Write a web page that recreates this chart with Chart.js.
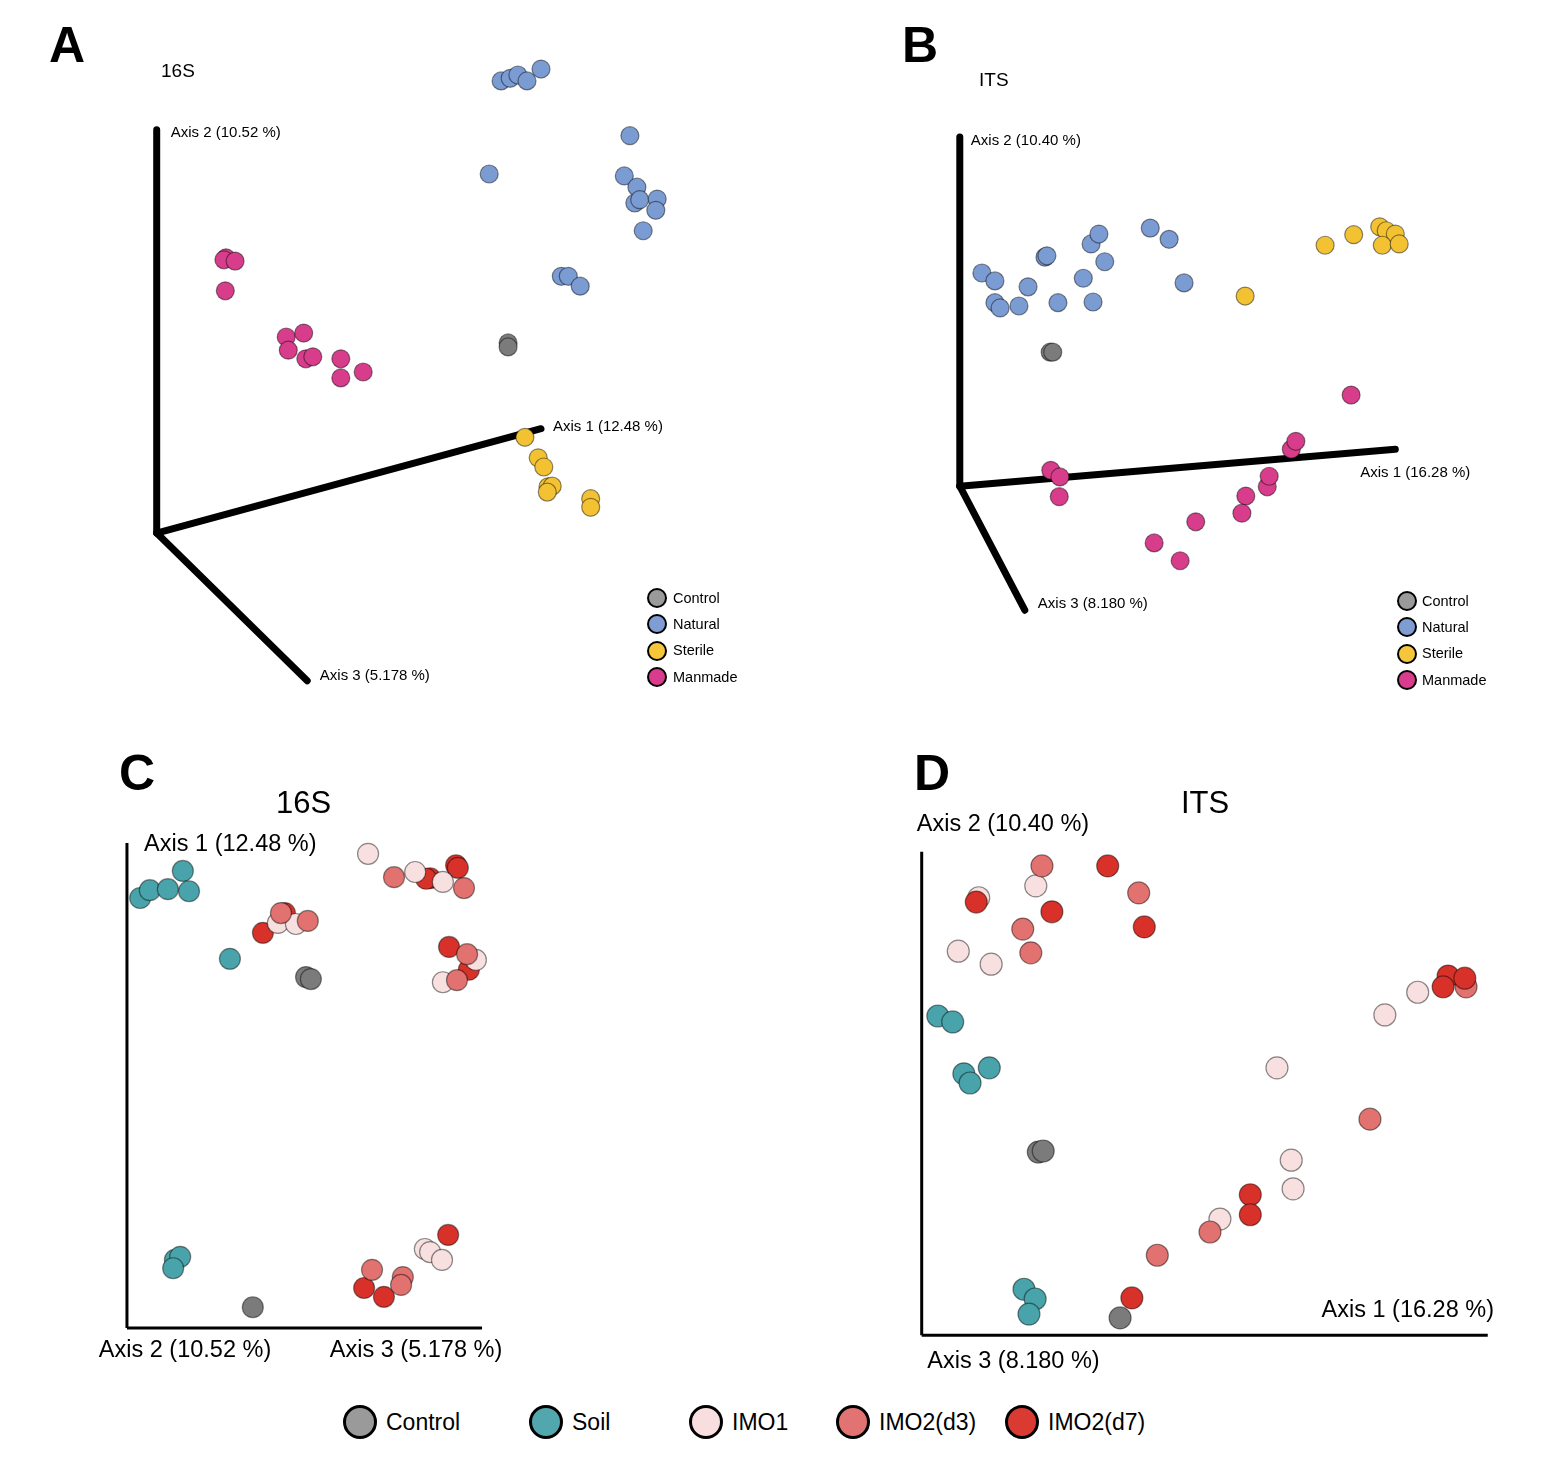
<!DOCTYPE html>
<html>
<head>
<meta charset="utf-8">
<script src="https://cdn.jsdelivr.net/npm/chart.js@4.4.1/dist/chart.umd.min.js"></script>
<style>
  body { margin: 0; background: #fff; overflow: hidden; }
  #page { position: relative; width: 1556px; height: 1476px; font-family: "Liberation Sans", Arial, sans-serif; color: #000; }
  canvas { position: absolute; }
  .txt { position: absolute; line-height: 1; white-space: nowrap; }
  .dot { position: absolute; box-sizing: border-box; border-radius: 50%; border: 2.5px solid #000; }
</style>
</head>
<body>
<div id="page">
  <canvas id="panelA" width="780" height="740" style="left:60px;top:0px"></canvas>
  <canvas id="panelB" width="730" height="740" style="left:860px;top:0px"></canvas>
  <canvas id="panelC" width="520" height="600" style="left:50px;top:780px"></canvas>
  <canvas id="panelD" width="700" height="620" style="left:860px;top:780px"></canvas>

  <div class="txt" style="left:49px;top:20px;font-size:50px;font-weight:bold">A</div>
  <div class="txt" style="left:902px;top:20px;font-size:50px;font-weight:bold">B</div>
  <div class="txt" style="left:119px;top:748px;font-size:50px;font-weight:bold">C</div>
  <div class="txt" style="left:914px;top:748px;font-size:50px;font-weight:bold">D</div>
  <div class="txt" style="left:161px;top:61px;font-size:19px">16S</div>
  <div class="txt" style="left:979px;top:70px;font-size:19px">ITS</div>
  <div class="txt" style="left:276px;top:787px;font-size:31px">16S</div>
  <div class="txt" style="left:1181px;top:787px;font-size:31px">ITS</div>
  <div id="legends"></div>
</div>

<script>
// group names
const groupsAB = ['Control', 'Natural', 'Sterile', 'Manmade'];
const groupsCD = ['Control', 'Soil', 'IMO1', 'IMO2(d3)', 'IMO2(d7)'];

// Panel A - 16S PCoA (projected, scaled 0-100)
const a16sControl = [[58.3, 54.1], [58.3, 53.5]];
const a16sNatural = [[57.3, 93.8], [58.6, 94.2], [59.7, 94.7], [61.0, 93.8], [63.0, 95.6], [75.7, 85.5],
  [55.6, 79.7], [74.9, 79.4], [76.7, 77.7], [76.4, 75.3], [77.1, 75.8], [79.6, 75.9], [79.4, 74.2],
  [77.6, 71.1], [65.9, 64.2], [66.9, 64.2], [68.6, 62.7]];
const a16sSterile = [[60.7, 39.8], [62.6, 36.7], [63.4, 35.3], [64.0, 32.3], [64.6, 32.4], [63.9, 31.5],
  [70.1, 30.5], [70.1, 29.2]];
const a16sManmade = [[18.0, 67.0], [17.7, 66.7], [19.3, 66.5], [17.9, 62.0], [26.6, 55.0], [29.1, 55.6],
  [26.9, 53.0], [29.4, 51.7], [30.4, 52.0], [34.4, 51.7], [34.4, 48.8], [37.6, 49.7]];

// Panel B - ITS PCoA
const bItsControl = [[23.1, 52.7], [23.5, 52.7]];
const bItsNatural = [[12.6, 64.7], [14.6, 63.5], [14.6, 60.2], [15.4, 59.4], [18.3, 59.7], [19.7, 62.6],
  [22.3, 67.1], [22.6, 67.3], [24.3, 60.2], [28.2, 63.9], [29.4, 69.1], [30.6, 70.6], [31.5, 66.4],
  [29.7, 60.3], [38.5, 71.5], [41.4, 69.8], [43.7, 63.2]];
const bItsSterile = [[53.1, 61.2], [65.4, 68.9], [69.8, 70.5], [73.8, 71.7], [74.8, 71.1], [76.2, 70.6],
  [74.2, 68.9], [76.8, 69.1]];
const bItsManmade = [[69.4, 46.2], [60.2, 38.0], [60.9, 39.2], [56.5, 32.3], [56.8, 33.9], [53.2, 30.9],
  [52.6, 28.3], [45.5, 27.0], [39.1, 23.8], [43.1, 21.1], [23.2, 34.8], [24.6, 33.8], [24.5, 30.8]];

// Panel C - 16S, axis 2 / axis 3 vs axis 1
const c16sControl = [[49.1, 69.8], [50.2, 69.4], [37.0, 6.3]];
const c16sSoil = [[11.4, 85.0], [13.6, 86.5], [17.7, 86.7], [21.1, 90.2], [22.5, 86.3], [31.8, 73.3],
  [19.3, 15.4], [20.5, 16.0], [18.9, 13.8]];
const c16sImo1 = [[42.7, 80.2], [46.8, 80.0], [63.2, 93.5], [73.9, 90.0], [80.2, 88.1], [87.7, 73.1],
  [80.2, 68.8], [76.1, 17.5], [77.3, 16.9], [80.0, 15.4]];
const c16sImo2d3 = [[43.4, 82.1], [49.5, 80.6], [69.1, 89.0], [85.0, 86.9], [85.7, 74.2], [83.4, 69.2],
  [64.1, 13.5], [71.1, 12.1], [70.7, 10.6]];
const c16sImo2d7 = [[44.3, 82.1], [39.3, 78.3], [77.3, 88.8], [76.4, 88.7], [83.2, 91.3], [83.6, 90.8],
  [81.6, 75.6], [86.1, 71.2], [62.3, 10.0], [66.8, 8.3], [81.4, 20.2]];

// Panel D - ITS, axis 1 / axis 3 vs axis 2
const dItsControl = [[22.3, 38.5], [23.1, 38.7], [35.5, 7.8]];
const dItsSoil = [[6.1, 63.7], [8.5, 62.6], [14.4, 54.1], [10.3, 53.0], [11.3, 51.3], [20.0, 13.1],
  [21.8, 11.3], [20.8, 8.5]];
const dItsImo2d7 = [[33.5, 91.5], [24.5, 83.0], [39.4, 80.2], [12.3, 84.8], [88.4, 71.1], [91.1, 70.7],
  [87.6, 69.1], [56.5, 30.6], [56.5, 26.9], [37.4, 11.5]];
const dItsImo2d3 = [[22.9, 91.5], [38.5, 86.5], [19.8, 79.8], [21.1, 75.4], [91.3, 69.1], [75.8, 44.6],
  [50.0, 23.7], [41.5, 19.4]];
const dItsImo1 = [[21.9, 87.8], [12.7, 85.6], [9.4, 75.7], [14.7, 73.3], [60.8, 54.1], [78.2, 63.9],
  [83.5, 68.1], [63.1, 37.0], [63.4, 31.7], [51.6, 26.1]];

const colors = {
  'Control': ['#7b7b7b', '#9a9a9a'],
  'Natural': ['#7b9bd3', '#7f9dd2'],
  'Sterile': ['#f3c233', '#f5c63a'],
  'Manmade': ['#d73d8b', '#d93c8c'],
  'Soil': ['#48a3aa', '#52a6ad'],
  'IMO1': ['#f8e0e0', '#f8dedf'],
  'IMO2(d3)': ['#e27270', '#e17472'],
  'IMO2(d7)': ['#d83129', '#d93a31']
};

// draws the pseudo-3D axis lines and their labels, in data units
const frameAxes = {
  id: 'frameAxes',
  beforeDatasetsDraw(chart, args, opts) {
    const ctx = chart.ctx;
    const xs = chart.scales.x, ys = chart.scales.y;
    ctx.save();
    ctx.strokeStyle = '#000';
    ctx.lineWidth = opts.width;
    ctx.lineCap = opts.cap;
    opts.lines.forEach(l => {
      ctx.beginPath();
      ctx.moveTo(xs.getPixelForValue(l[0][0]), ys.getPixelForValue(l[0][1]));
      ctx.lineTo(xs.getPixelForValue(l[1][0]), ys.getPixelForValue(l[1][1]));
      ctx.stroke();
    });
    ctx.fillStyle = '#000';
    ctx.font = opts.fontSize + 'px "Liberation Sans", Arial, sans-serif';
    ctx.textBaseline = 'middle';
    opts.labels.forEach(t => {
      ctx.textAlign = t.align || 'left';
      ctx.fillText(t.text, xs.getPixelForValue(t.at[0]), ys.getPixelForValue(t.at[1]));
    });
    ctx.restore();
  }
};

function makeSet(name, pts, radius) {
  return {
    label: name,
    data: pts.map(p => ({ x: p[0], y: p[1] })),
    backgroundColor: colors[name][0],
    borderColor: 'rgba(0,0,0,0.45)',
    borderWidth: 1.2,
    pointRadius: radius
  };
}

function makePanel(id, sets, axes) {
  new Chart(document.getElementById(id), {
    type: 'scatter',
    data: { datasets: sets },
    options: {
      responsive: false,
      animation: false,
      clip: false,
      layout: { padding: 40 },
      plugins: {
        legend: { display: false },
        tooltip: { enabled: false },
        frameAxes: axes
      },
      scales: {
        x: { display: false, min: 0, max: 100 },
        y: { display: false, min: 0, max: 100 }
      }
    },
    plugins: [frameAxes]
  });
}

makePanel('panelA', [
  makeSet('Control', a16sControl, 9),
  makeSet('Natural', a16sNatural, 9),
  makeSet('Sterile', a16sSterile, 9),
  makeSet('Manmade', a16sManmade, 9)
], {
  width: 7, cap: 'round', fontSize: 15,
  lines: [[[8.1, 25.3], [8.1, 86.4]], [[8.1, 25.3], [63.0, 41.1]], [[8.1, 25.3], [29.6, 2.9]]],
  labels: [
    { text: 'Axis 2 (10.52 %)', at: [10.1, 85.9] },
    { text: 'Axis 1 (12.48 %)', at: [64.7, 41.4] },
    { text: 'Axis 3 (5.178 %)', at: [31.4, 3.6] }
  ]
});

makePanel('panelB', [
  makeSet('Control', bItsControl, 9),
  makeSet('Natural', bItsNatural, 9),
  makeSet('Sterile', bItsSterile, 9),
  makeSet('Manmade', bItsManmade, 9)
], {
  width: 7, cap: 'round', fontSize: 15,
  lines: [[[9.2, 32.4], [9.2, 85.3]], [[9.2, 32.4], [76.2, 38.0]], [[9.2, 32.4], [19.2, 13.6]]],
  labels: [
    { text: 'Axis 2 (10.40 %)', at: [10.9, 84.7] },
    { text: 'Axis 1 (16.28 %)', at: [70.8, 34.4] },
    { text: 'Axis 3 (8.180 %)', at: [21.2, 14.5] }
  ]
});

makePanel('panelC', [
  makeSet('Control', c16sControl, 10.5),
  makeSet('Soil', c16sSoil, 10.5),
  makeSet('IMO2(d3)', c16sImo2d3, 10.5),
  makeSet('IMO1', c16sImo1, 10.5),
  makeSet('IMO2(d7)', c16sImo2d7, 10.5)
], {
  width: 3, cap: 'butt', fontSize: 23.5,
  lines: [[[8.4, 2.3], [8.4, 95.6]], [[8.4, 2.3], [89.1, 2.3]]],
  labels: [
    { text: 'Axis 1 (12.48 %)', at: [12.3, 95.2] },
    { text: 'Axis 2 (10.52 %)', at: [2.0, -2.1] },
    { text: 'Axis 3 (5.178 %)', at: [54.5, -2.1] }
  ]
});

makePanel('panelD', [
  makeSet('Control', dItsControl, 11),
  makeSet('Soil', dItsSoil, 11),
  makeSet('IMO2(d7)', dItsImo2d7, 11),
  makeSet('IMO2(d3)', dItsImo2d3, 11),
  makeSet('IMO1', dItsImo1, 11)
], {
  width: 3, cap: 'butt', fontSize: 23.5,
  lines: [[[3.5, 4.6], [3.5, 94.1]], [[3.5, 4.6], [94.8, 4.6]]],
  labels: [
    { text: 'Axis 2 (10.40 %)', at: [2.7, 99.1] },
    { text: 'Axis 1 (16.28 %)', at: [95.8, 9.1], align: 'right' },
    { text: 'Axis 3 (8.180 %)', at: [4.4, -0.2] }
  ]
});

// legends built from the group arrays
const legendBox = document.getElementById('legends');
function addLegendItem(name, cx, cy, r, fs, gap) {
  const d = document.createElement('div');
  d.className = 'dot';
  d.style.left = (cx - r) + 'px';
  d.style.top = (cy - r) + 'px';
  d.style.width = (2 * r) + 'px';
  d.style.height = (2 * r) + 'px';
  d.style.background = colors[name][1];
  if (r > 12) d.style.borderWidth = '3px';
  legendBox.appendChild(d);
  const t = document.createElement('div');
  t.className = 'txt';
  t.textContent = name;
  t.style.left = (cx + r + gap) + 'px';
  t.style.top = (cy - 0.49 * fs) + 'px';
  t.style.fontSize = fs + 'px';
  legendBox.appendChild(t);
}
groupsAB.forEach((g, i) => addLegendItem(g, 657, 598 + i * 26.3, 10, 14.5, 6));
groupsAB.forEach((g, i) => addLegendItem(g, 1407, 601 + i * 26.3, 10, 14.5, 5));
const bottomX = [360, 546, 706, 853, 1022];
groupsCD.forEach((g, i) => addLegendItem(g, bottomX[i], 1422, 17, 23, 9));
</script>
</body>
</html>
